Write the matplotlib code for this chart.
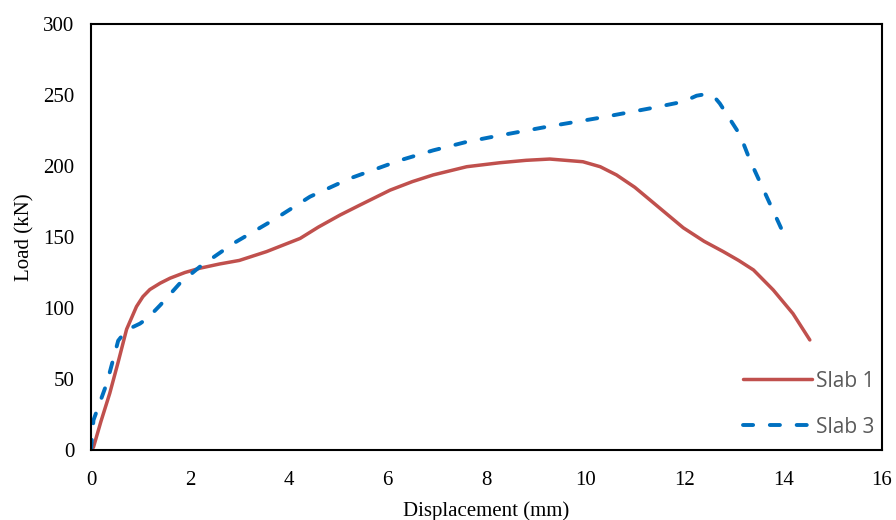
import matplotlib.pyplot as plt

# Slab 1 (solid red)
slab1_x = [0, 0.05, 0.2, 0.38, 0.55, 0.72, 0.92, 1.05, 1.19, 1.4, 1.6, 1.9, 2.2, 2.6, 3.0, 3.55, 4.23,
           4.6, 5.04, 5.44, 6.05, 6.5, 6.92, 7.6, 8.27, 8.8, 9.28, 9.95, 10.3, 10.63, 11.0, 11.31,
           11.98, 12.4, 12.79, 13.1, 13.4, 13.8, 14.2, 14.54]
slab1_y = [0, 2, 20, 40, 62, 85, 101, 108, 113, 117.5, 121, 125, 128, 131, 133.5, 139.7, 149,
           157, 165.5, 172.5, 183, 189, 193.7, 199.5, 202.3, 204, 204.9, 203, 199.5, 193.7, 185, 176,
           156.5, 147, 139.7, 133.5, 126.8, 112.7, 96, 77.5]

# Slab 3 (dashed blue)
slab3_x = [0, 0.05, 0.32, 0.55, 0.72, 0.99, 1.15, 1.4, 1.8, 2.2, 2.88, 3.69, 4.43, 5.24, 6.25, 6.92,
           7.6, 8.13, 9.28, 10.3, 11.31, 11.98, 12.25, 12.45, 12.6, 12.72, 13.13, 13.33, 13.97]
slab3_y = [0, 21, 47, 77, 84.5, 89, 93, 102, 117.5, 129, 145.5, 162, 178.4, 191.3, 204, 211,
           217, 220.6, 228, 234, 240.6, 245.3, 249.5, 250.7, 249, 244, 221.8, 204, 155.4]

plt.rcParams['font.family'] = ['Liberation Serif', 'DejaVu Serif']

fig = plt.figure(figsize=(8.96, 5.2), dpi=100)
ax = fig.add_axes([91 / 896, 1 - 450 / 520, (882 - 91) / 896, (450 - 24) / 520])

ax.plot(slab1_x, slab1_y, color='#C0504D', lw=2.5, label='Slab 1', solid_capstyle='round')
ax.plot(slab3_x, slab3_y, color='#0070C0', lw=2.8, label='Slab 3',
        dashes=(2.6, 4.3), dash_capstyle='round')

ax.set_xlim(0, 16)
ax.set_ylim(0, 300)
ax.set_xticks(range(0, 17, 2))
ax.set_yticks(range(0, 301, 50))
ax.tick_params(length=0, labelsize=15)
ax.tick_params(axis='x', pad=15)
ax.tick_params(axis='y', pad=12)
for s in ax.spines.values():
    s.set_linewidth(1.5)
    s.set_color('black')

ax.set_xlabel('Displacement (mm)', fontsize=15, va='center', ha='center')
ax.set_ylabel('Load (kN)', fontsize=15, va='center', ha='center')
ax.xaxis.set_label_coords(0.5, (450 - 511) / 426)
ax.yaxis.set_label_coords((25 - 91) / 791, 0.5)

leg = ax.legend(loc='lower right', frameon=False, handlelength=3.3, handletextpad=0.2,
                labelspacing=1.2, prop={'family': 'Open Sans', 'size': 15},
                bbox_to_anchor=(1.014, -0.015))
for t in leg.get_texts():
    t.set_color('#595959')

fig.savefig('out.png', dpi=100)
